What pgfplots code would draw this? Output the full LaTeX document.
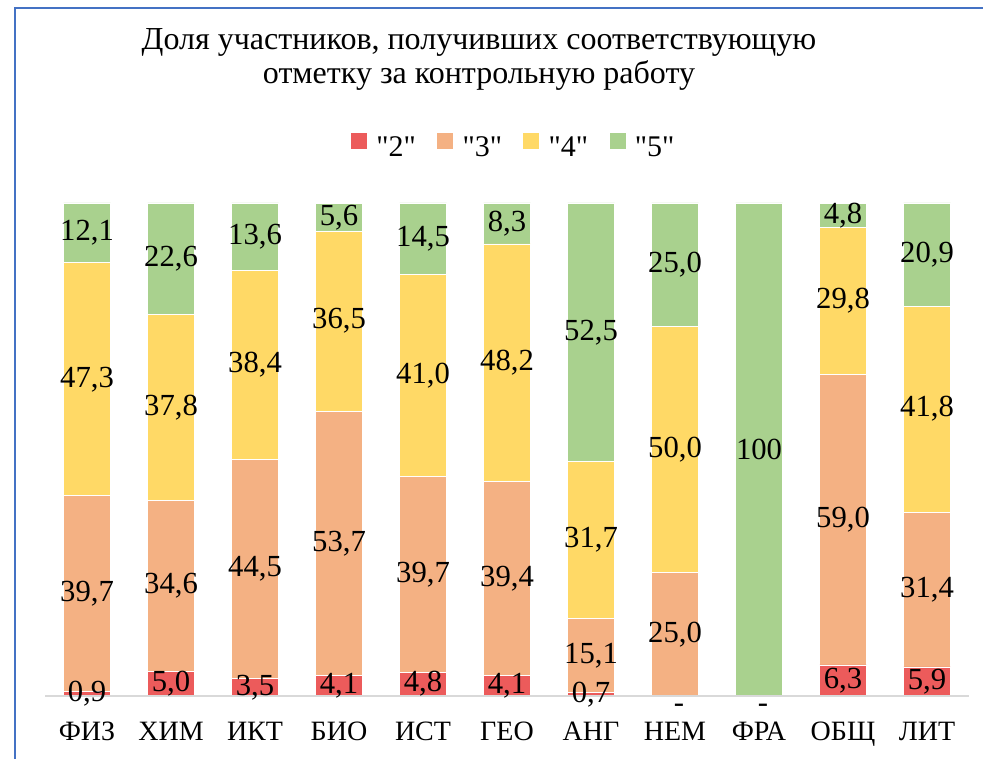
\documentclass[border=0pt]{standalone}
\usepackage{pgfplots}
\pgfplotsset{compat=1.18}
\usepackage{pgfplotstable}
\usepackage{fontspec}
\setmainfont{Liberation Serif}
\definecolor{c2}{HTML}{EC5B5B}
\definecolor{c3}{HTML}{F4B183}
\definecolor{c4}{HTML}{FFD966}
\definecolor{c5}{HTML}{A9D18E}
\definecolor{framecol}{HTML}{4472C4}
\definecolor{basecol}{HTML}{D9D9D9}
\pgfplotstableread{
x two three four five l2 l3 l4 l5
0 0.9 39.7 47.3 12.1 {0,9} {39,7} {47,3} {12,1}
1 5.0 34.6 37.8 22.6 {5,0} {34,6} {37,8} {22,6}
2 3.5 44.5 38.4 13.6 {3,5} {44,5} {38,4} {13,6}
3 4.1 53.7 36.5 5.6 {4,1} {53,7} {36,5} {5,6}
4 4.8 39.7 41.0 14.5 {4,8} {39,7} {41,0} {14,5}
5 4.1 39.4 48.2 8.3 {4,1} {39,4} {48,2} {8,3}
6 0.7 15.1 31.7 52.5 {0,7} {15,1} {31,7} {52,5}
7 0 25.0 50.0 25.0 {} {25,0} {50,0} {25,0}
8 0 0 0 100 {} {} {} {100}
9 6.3 59.0 29.8 4.8 {6,3} {59,0} {29,8} {4,8}
10 5.9 31.4 41.8 20.9 {5,9} {31,4} {41,8} {20,9}
}\data
\begin{document}
\begin{tikzpicture}
\useasboundingbox (0,0) rectangle (737.25pt,569.25pt);
\draw[framecol, line width=1.1pt] (11.25pt,-2pt) -- (11.25pt,563.25pt) -- (740pt,563.25pt);
\node[anchor=base, font=\fontsize{24}{28}\selectfont] at (359.25pt,531.75pt) {Доля участников, получивших соответствующую};
\node[anchor=base, font=\fontsize{24}{28}\selectfont] at (359.25pt,506.25pt) {отметку за контрольную работу};
\begin{axis}[
  at={(33.75pt,47.25pt)}, anchor=south west,
  width=693pt, height=369.75pt, scale only axis,
  ybar stacked, bar width=35.25pt,
  xmin=-0.5, xmax=10.5, ymin=0, ymax=100,
  axis x line*=bottom, axis y line=none,
  x axis line style={draw=none},
  xtick={0,...,10},
  xticklabels={ФИЗ,ХИМ,ИКТ,БИО,ИСТ,ГЕО,АНГ,НЕМ,ФРА,ОБЩ,ЛИТ},
  major tick length=0pt,
  xticklabel style={anchor=base, yshift=-33.75pt, font=\fontsize{21}{24}\selectfont},
  point meta=explicit symbolic,
  nodes near coords,
  every node near coord/.append style={anchor=center, font=\fontsize{23}{26}\selectfont, black},
  legend columns=4,
  legend style={at={(0.5076,1.1136)}, anchor=center, draw=none, fill=none,
    font=\fontsize{22.5}{26}\selectfont,
    /tikz/every odd column/.append style={column sep=5pt},
    /tikz/every even column/.append style={column sep=14pt}},
  legend image code/.code={\fill[#1,draw=none] (0pt,-1.5pt) rectangle (12pt,10.5pt);},
  clip=false,
]
\draw[basecol, line width=1.2pt] (axis cs:-0.5,0) -- (axis cs:10.5,0);
\addplot[fill=c2, draw=white, line width=0.6pt] table[x=x, y=two, meta=l2] {\data};
\addplot[fill=c3, draw=white, line width=0.6pt] table[x=x, y=three, meta=l3] {\data};
\addplot[fill=c4, draw=white, line width=0.6pt] table[x=x, y=four, meta=l4] {\data};
\addplot[fill=c5, draw=white, line width=0.6pt] table[x=x, y=five, meta=l5] {\data};
\node[font=\fontsize{23}{26}\selectfont, xshift=3pt, yshift=-9.5pt] at (axis cs:7,0) {-};
\node[font=\fontsize{23}{26}\selectfont, xshift=3pt, yshift=-9.5pt] at (axis cs:8,0) {-};
\legend{\textquotedbl 2\textquotedbl,\textquotedbl 3\textquotedbl,\textquotedbl 4\textquotedbl,\textquotedbl 5\textquotedbl}
\end{axis}
\end{tikzpicture}
\end{document}
